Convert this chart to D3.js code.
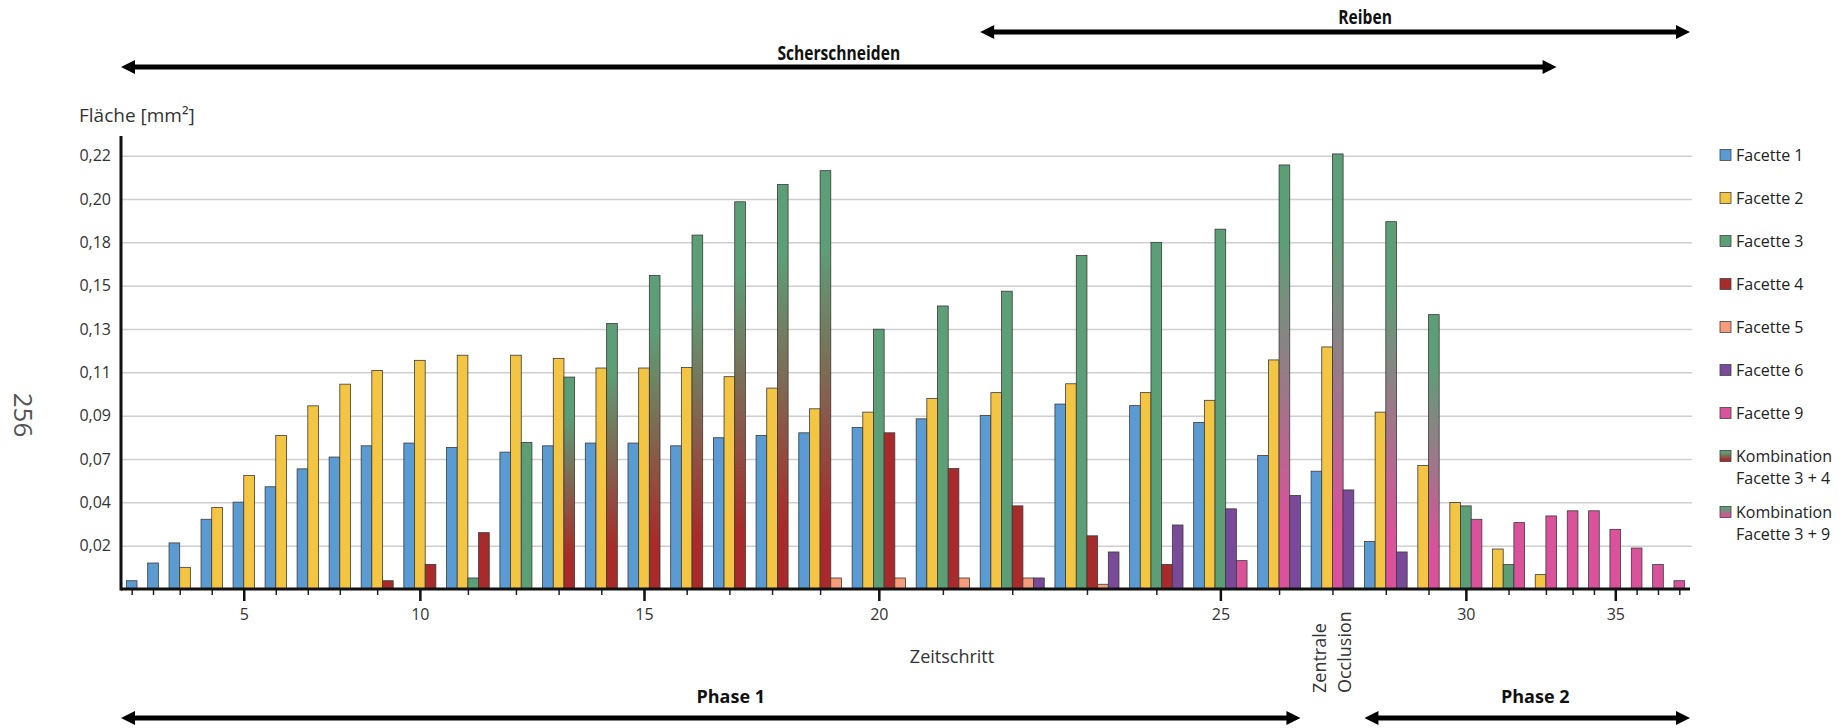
<!DOCTYPE html>
<html>
<head>
<meta charset="utf-8">
<script src="https://cdn.jsdelivr.net/npm/d3@7"></script>
<style>
  body { margin: 0; background: #fff; }
  svg { display: block; font-family: "Open Sans", sans-serif; }
</style>
</head>
<body>
<svg id="chart" width="1845" height="728"></svg>
<script>
(function(){
    'use strict';

    // Zeitschritte
    const steps = [1,2,3,4,5,6,7,8,9,10,11,12,13,14,15,16,17,18,19,20,21,22,23,24,25,26,27,28,29,30,31,32,33,34,35,36,37,38];
    const labeledSteps = [5, 10, 15, 20, 25, 30, 35];
    const occlusionStep = 27;

    // Fläche [mm²] je Zeitschritt, 0 = kein Balken
    const facette1 = [0.0042,0.0132,0.0234,0.0354,0.0441,0.0519,0.061,0.067,0.0727,0.0741,0.0719,0.0695,0.0727,0.0741,0.0741,0.0727,0.0768,0.078,0.0793,0.082,0.0864,0.0881,0.0939,0.0931,0.0846,0.0678,0.0598,0.0241,0,0,0,0,0,0,0,0,0,0];
    const facette2 = [0,0,0.011,0.0414,0.0576,0.078,0.093,0.104,0.1109,0.1161,0.1187,0.1187,0.1171,0.1122,0.1122,0.1125,0.1078,0.102,0.0915,0.0898,0.0968,0.0997,0.1042,0.0997,0.0958,0.1163,0.1229,0.0898,0.0627,0.0439,0.0203,0.0073,0,0,0,0,0,0];
    const facette3 = [0,0,0,0,0,0,0,0,0,0,0.0056,0.0744,0,0,0,0,0,0,0,0.1319,0.1437,0.1512,0.1693,0.176,0.1827,0,0,0,0,0.0422,0.0124,0,0,0,0,0,0,0];
    const komb34   = [0,0,0,0,0,0,0,0,0,0,0,0,0.1076,0.1348,0.1592,0.1797,0.1966,0.2054,0.2124,0,0,0,0,0,0,0,0,0,0,0,0,0,0,0,0,0,0,0];
    const komb39   = [0,0,0,0,0,0,0,0,0,0,0,0,0,0,0,0,0,0,0,0,0,0,0,0,0,0.2153,0.2209,0.1865,0.1393,0,0,0,0,0,0,0,0,0];
    const facette4 = [0,0,0,0,0,0,0,0,0.0042,0.0125,0.0286,0,0,0,0,0,0,0,0,0.0793,0.0612,0.0422,0.027,0.0125,0,0,0,0,0,0,0,0,0,0,0,0,0,0];
    const facette5 = [0,0,0,0,0,0,0,0,0,0,0,0,0,0,0,0,0,0,0.0056,0.0056,0.0056,0.0056,0.0024,0,0,0,0,0,0,0,0,0,0,0,0,0,0,0];
    const facette6 = [0,0,0,0,0,0,0,0,0,0,0,0,0,0,0,0,0,0,0,0,0,0.0056,0.0188,0.0325,0.0407,0.0475,0.0503,0.0188,0,0,0,0,0,0,0,0,0,0];
    const facette9 = [0,0,0,0,0,0,0,0,0,0,0,0,0,0,0,0,0,0,0,0,0,0,0,0,0.0144,0,0,0,0,0.0354,0.0337,0.0371,0.0397,0.0397,0.0303,0.0208,0.0124,0.0042];

    const yTicks = [0.022,0.044,0.066,0.088,0.110,0.132,0.154,0.176,0.198,0.220];
    const yTickLabels = ['0,02','0,04','0,07','0,09','0,11','0,13','0,15','0,18','0,20','0,22'];

    // Pfeile oben / unten
    const spanLabels = ['Scherschneiden', 'Reiben', 'Phase 1', 'Phase 2'];
    const spanFrom = [1, 22, 1, 28];
    const spanTo = [32, 38, 26, 38];

    const green = '#5c9f76';
    const series = [
        {key: 'f1',  name: 'Facette 1', values: facette1, fill: '#5a9bd3'},
        {key: 'f2',  name: 'Facette 2', values: facette2, fill: '#f4c542'},
        {key: 'f3',  name: 'Facette 3', values: facette3, fill: green},
        {key: 'f4',  name: 'Facette 4', values: facette4, fill: '#a82a2a'},
        {key: 'f5',  name: 'Facette 5', values: facette5, fill: '#f59d7a'},
        {key: 'f6',  name: 'Facette 6', values: facette6, fill: '#7a4a9a'},
        {key: 'f9',  name: 'Facette 9', values: facette9, fill: '#d9529b'},
        {key: 'k34', name: 'Kombination\nFacette 3 + 4', values: komb34, fill: 'url(#grad34)'},
        {key: 'k39', name: 'Kombination\nFacette 3 + 9', values: komb39, fill: 'url(#grad39)'}
    ];
    const barOrder = ['f1', 'f2', 'f3', 'k34', 'k39', 'f4', 'f5', 'f6', 'f9'];
    const byKey = {};
    series.forEach(s => byKey[s.key] = s);

    // Gruppen: nur vorhandene Balken, eine Balkenbreite Abstand
    const groups = [];
    const bars = [];
    let unit = 0.5;
    steps.forEach((step, i) => {
        const present = barOrder.filter(k => byKey[k].values[i] > 0);
        const start = unit;
        present.forEach((k, j) => bars.push({step, key: k, value: byKey[k].values[i], pos: start + j}));
        groups.push({step, start, end: start + present.length, center: start + present.length / 2});
        unit += present.length + 1;
    });
    const totalUnits = unit - 0.5;

    const plot = {left: 121, right: 1690, bottom: 589, top: 136};

    const x = d3.scaleLinear().domain([0, totalUnits]).range([plot.left, plot.right]);
    const y = d3.scaleLinear().domain([0, 0.23]).range([plot.bottom, plot.top]);
    const xStep = d3.scaleOrdinal().domain(steps).range(groups.map(g => x(g.center)));

    const svg = d3.select('#chart');

    const defs = svg.append('defs');
    [['grad34', '#a82a2a'], ['grad39', '#d9529b']].forEach(([id, bottom]) => {
        const g = defs.append('linearGradient').attr('id', id)
            .attr('x1', 0).attr('y1', 0).attr('x2', 0).attr('y2', 1);
        g.append('stop').attr('offset', '0%').attr('stop-color', green);
        g.append('stop').attr('offset', '18%').attr('stop-color', green);
        g.append('stop').attr('offset', '85%').attr('stop-color', bottom);
        g.append('stop').attr('offset', '100%').attr('stop-color', bottom);
    });

    // Gitternetz + y-Beschriftung
    svg.append('g')
        .attr('transform', `translate(${plot.left},0)`)
        .call(d3.axisLeft(y).tickValues(yTicks)
            .tickFormat((d, i) => yTickLabels[i])
            .tickSize(-(plot.right + 2 - plot.left))
            .tickPadding(10))
        .call(g => g.select('.domain').remove())
        .call(g => g.selectAll('.tick line').attr('stroke', '#cfcfcf').attr('stroke-width', 1.5))
        .call(g => g.selectAll('.tick text').attr('font-size', 16).attr('fill', '#333')
            .attr('font-family', '"Open Sans", sans-serif'));

    // Balken
    svg.append('g')
        .selectAll('rect')
        .data(bars)
        .enter()
        .append('rect')
            .attr('x', d => x(d.pos))
            .attr('width', d => x(d.pos + 1) - x(d.pos))
            .attr('y', d => y(d.value))
            .attr('height', d => y(0) - y(d.value))
            .attr('fill', d => byKey[d.key].fill)
            .attr('stroke', '#3a3a3a')
            .attr('stroke-width', 0.8);

    // x-Achse: kleine Striche je Zeitschritt, große mit Zahl
    svg.append('g')
        .attr('transform', `translate(0,${plot.bottom})`)
        .call(d3.axisBottom(xStep).tickSize(6).tickFormat(''))
        .call(g => g.select('.domain').remove())
        .call(g => g.selectAll('.tick line').attr('stroke', '#222').attr('stroke-width', 1.5));

    svg.append('g')
        .attr('transform', `translate(0,${plot.bottom})`)
        .call(d3.axisBottom(xStep).tickValues(labeledSteps).tickSize(12).tickPadding(8).tickFormat(d => String(d)))
        .call(g => g.select('.domain').remove())
        .call(g => g.selectAll('.tick line').attr('stroke', '#111').attr('stroke-width', 2.5))
        .call(g => g.selectAll('.tick text').attr('font-size', 16).attr('fill', '#333')
            .attr('font-family', '"Open Sans", sans-serif'));

    // Achslinien
    svg.append('line')
        .attr('x1', plot.left).attr('x2', plot.right)
        .attr('y1', plot.bottom).attr('y2', plot.bottom)
        .attr('stroke', '#111').attr('stroke-width', 3);
    svg.append('line')
        .attr('x1', plot.left).attr('x2', plot.left)
        .attr('y1', plot.bottom + 1.5).attr('y2', plot.top)
        .attr('stroke', '#111').attr('stroke-width', 3);

    // Achsentitel
    svg.append('text')
        .attr('x', 79).attr('y', 122)
        .attr('font-size', 19).attr('fill', '#333')
        .text('Fläche [mm²]');

    svg.append('text')
        .attr('x', 952).attr('y', 663)
        .attr('text-anchor', 'middle')
        .attr('font-size', 18).attr('fill', '#333')
        .text('Zeitschritt');

    const occX = xStep(occlusionStep);
    svg.append('g')
        .selectAll('text')
        .data(['Zentrale', 'Occlusion'])
        .enter()
        .append('text')
            .attr('transform', (d, i) => `translate(${occX - 6 + i * 25},693) rotate(-90)`)
            .attr('font-size', 18).attr('fill', '#333')
            .text(d => d);

    // Seitenzahl
    svg.append('text')
        .attr('transform', 'translate(14,415) rotate(90)')
        .attr('text-anchor', 'middle')
        .attr('font-size', 26).attr('fill', '#555')
        .text('256');

    // Pfeile
    const spanY = [67, 32, 718, 718];
    const labelY = [53, 17, 697, 697];
    const labelShift = [0, 30, 20, 8];
    const labelScale = [0.78, 0.78, 1, 1];
    const groupOf = step => groups[steps.indexOf(step)];
    spanLabels.forEach((label, i) => {
        const x1 = spanFrom[i] === steps[0] ? x(0) : x(groupOf(spanFrom[i]).start);
        const x2 = spanTo[i] === steps[steps.length - 1] ? x(totalUnits) : x(groupOf(spanTo[i]).end);
        const yy = spanY[i];
        const a = svg.append('g');
        a.append('line')
            .attr('x1', x1 + 8).attr('x2', x2 - 8)
            .attr('y1', yy).attr('y2', yy)
            .attr('stroke', '#000').attr('stroke-width', 5);
        a.append('path')
            .attr('d', `M${x1},${yy} L${x1 + 14},${yy - 7} L${x1 + 14},${yy + 7} Z`)
            .attr('fill', '#000');
        a.append('path')
            .attr('d', `M${x2},${yy} L${x2 - 14},${yy - 7} L${x2 - 14},${yy + 7} Z`)
            .attr('fill', '#000');
        a.append('text')
            .attr('transform', `translate(${(x1 + x2) / 2 + labelShift[i]},${labelY[i]}) scale(${labelScale[i]},1)`)
            .attr('dy', '0.35em')
            .attr('text-anchor', 'middle')
            .attr('font-weight', 'bold')
            .attr('font-size', i < 2 ? 20 : 18)
            .attr('fill', '#111')
            .text(label);
    });

    // Legende
    let ly = 155;
    const legend = svg.append('g');
    series.forEach(s => {
        const lines = s.name.split('\n');
        const item = legend.append('g').attr('transform', `translate(1720,${ly})`);
        item.append('rect')
            .attr('x', 0).attr('y', -5.5)
            .attr('width', 11).attr('height', 11)
            .attr('fill', s.fill)
            .attr('stroke', '#444').attr('stroke-width', 0.8);
        item.append('text')
            .attr('font-size', 16).attr('fill', '#222')
            .selectAll('tspan')
            .data(lines)
            .enter()
            .append('tspan')
                .attr('x', 16)
                .attr('y', (d, i) => i * 22)
                .attr('dy', '0.35em')
                .text(d => d);
        ly += lines.length > 1 ? 56 : 43;
    });
})();
</script>
</body>
</html>
